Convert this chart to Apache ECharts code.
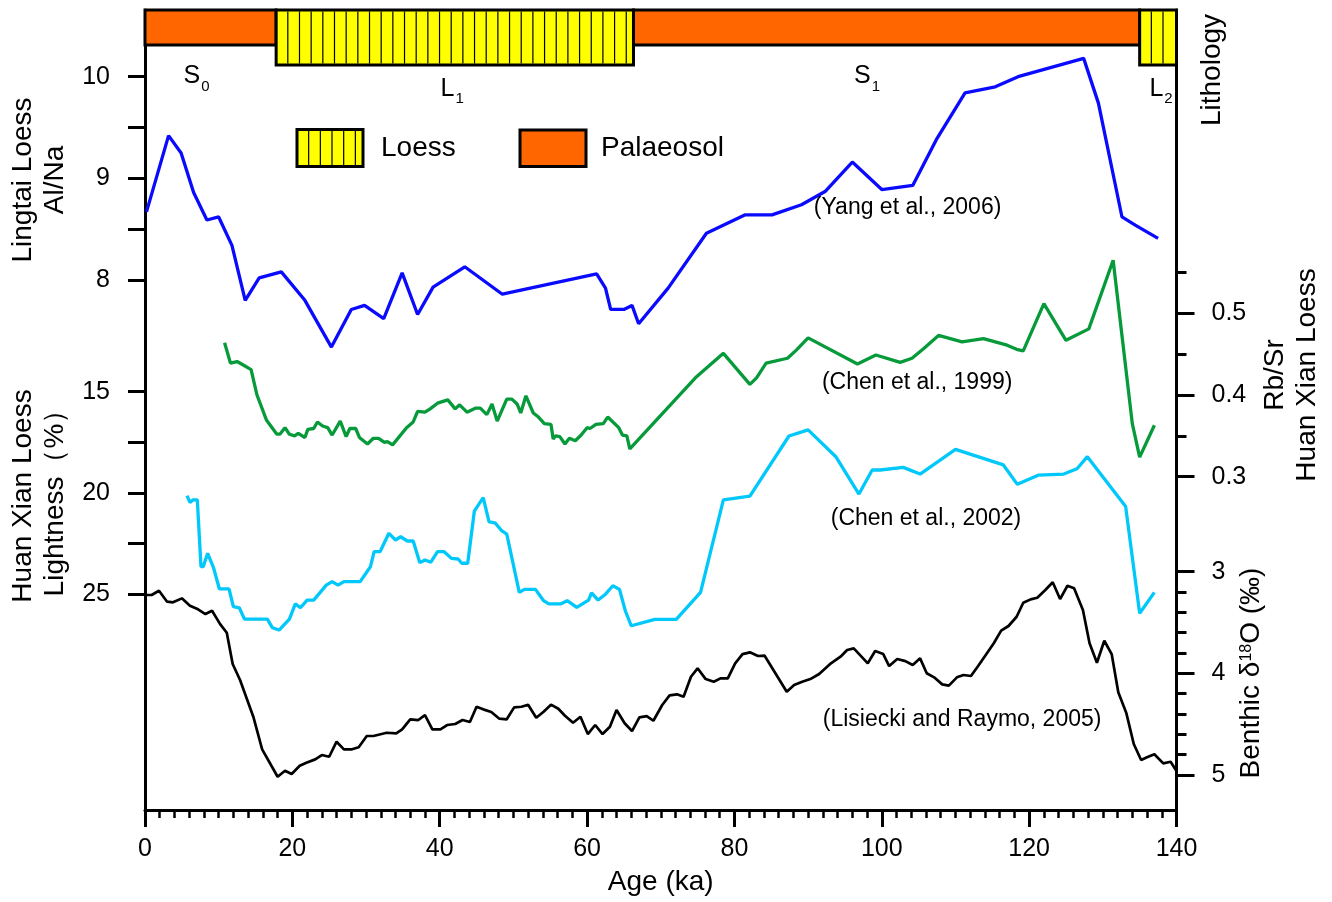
<!DOCTYPE html>
<html><head><meta charset="utf-8">
<script src="https://cdn.jsdelivr.net/npm/echarts@6/dist/echarts.min.js"></script>
<style>html,body{margin:0;padding:0;background:#fff}#c{width:1332px;height:902px}</style>
</head><body><div id="c"></div>
<script>
// ---------------- DATA ----------------
// Lingtai loess Al/Na (Yang et al., 2006): [age ka, Al/Na]
const alNaPoints = [[0.2,8.67],[3.2,9.42],[4.9,9.25],[6.6,8.86],[8.4,8.59],[10.0,8.62],[11.8,8.34],[13.6,7.80],[15.5,8.02],[18.5,8.08],[21.7,7.80],[25.3,7.34],[28.0,7.71],[29.8,7.75],[32.4,7.62],[34.9,8.07],[37.0,7.66],[39.1,7.93],[43.4,8.13],[48.5,7.86],[61.3,8.06],[62.5,7.92],[63.2,7.71],[65.0,7.71],[66.1,7.75],[67.0,7.57],[71.0,7.92],[76.2,8.46],[81.4,8.64],[85.1,8.64],[89.1,8.74],[92.3,8.87],[96.0,9.16],[100.0,8.89],[104.2,8.93],[107.4,9.38],[111.3,9.84],[115.4,9.90],[118.5,10.0],[127.4,10.18],[129.4,9.74],[132.6,8.62],[134.4,8.54],[137.5,8.41]];
// Huan Xian loess Rb/Sr (Chen et al., 1999): [age ka, Rb/Sr]
const rbSrPoints = [[10.8,0.464],[11.6,0.439],[12.5,0.441],[13.1,0.438],[14.4,0.431],[15.2,0.400],[16.5,0.369],[17.9,0.352],[18.3,0.352],[19.0,0.360],[19.6,0.352],[20.3,0.350],[20.8,0.353],[21.7,0.348],[22.1,0.358],[22.9,0.359],[23.4,0.367],[24.1,0.362],[24.8,0.360],[25.4,0.351],[26.5,0.368],[27.3,0.349],[27.8,0.359],[28.6,0.359],[29.1,0.348],[30.2,0.340],[31.0,0.347],[31.7,0.347],[32.5,0.342],[32.9,0.343],[33.6,0.339],[35.5,0.360],[36.4,0.367],[37.0,0.380],[38.0,0.379],[38.7,0.383],[39.7,0.390],[41.1,0.394],[42.1,0.383],[42.7,0.388],[43.7,0.379],[44.9,0.384],[45.5,0.384],[46.4,0.376],[47.1,0.389],[47.8,0.368],[49.1,0.395],[49.8,0.395],[50.5,0.389],[51.0,0.378],[51.7,0.399],[52.7,0.378],[53.4,0.373],[54.2,0.365],[55.1,0.364],[55.4,0.346],[55.7,0.350],[56.3,0.349],[57.0,0.340],[57.6,0.347],[58.4,0.344],[59.2,0.351],[60.0,0.360],[60.4,0.359],[61.2,0.364],[62.2,0.365],[62.8,0.373],[64.3,0.360],[64.8,0.351],[65.4,0.350],[65.8,0.334],[74.7,0.421],[78.5,0.451],[82.1,0.413],[83.0,0.421],[84.3,0.439],[87.2,0.445],[88.4,0.455],[90.0,0.470],[96.7,0.438],[99.2,0.449],[102.5,0.440],[104.1,0.445],[105.7,0.457],[107.7,0.473],[110.9,0.465],[113.8,0.469],[117.0,0.461],[118.3,0.456],[119.2,0.454],[122.0,0.512],[125.0,0.467],[128.1,0.481],[131.4,0.565],[134.0,0.365],[135.0,0.324],[137.0,0.363]];
// Huan Xian loess lightness (Chen et al., 2002): [age ka, %]
const lightnessPoints = [[5.7,20.14],[6.1,20.47],[6.5,20.35],[7.1,20.35],[7.6,23.65],[7.9,23.65],[8.5,22.99],[9.3,23.70],[10.1,24.75],[11.4,24.75],[12.0,25.63],[12.8,25.68],[13.5,26.24],[16.6,26.24],[17.3,26.67],[18.2,26.78],[19.6,26.24],[20.4,25.49],[21.1,25.68],[22.0,25.30],[22.9,25.30],[24.6,24.56],[25.4,24.39],[26.2,24.56],[27.0,24.39],[29.2,24.39],[30.6,23.65],[31.1,22.91],[31.9,22.91],[33.1,22.00],[34.0,22.33],[34.7,22.17],[35.6,22.38],[36.4,22.38],[37.3,23.45],[38.0,23.32],[38.8,23.43],[39.7,22.91],[40.6,22.91],[41.6,23.24],[42.5,23.27],[43.0,23.48],[43.8,23.48],[44.7,20.90],[45.9,20.24],[46.7,21.43],[47.5,21.48],[48.4,21.87],[49.1,22.04],[50.8,24.92],[51.5,24.77],[53.0,24.77],[54.1,25.33],[54.8,25.49],[56.4,25.49],[57.3,25.33],[58.6,25.66],[60.2,25.30],[60.6,24.94],[61.5,25.30],[62.5,25.01],[63.5,24.59],[64.4,24.77],[65.2,25.84],[66.0,26.57],[69.2,26.25],[72.1,26.25],[75.4,24.92],[78.5,20.35],[82.1,20.16],[87.4,17.19],[90.0,16.89],[93.8,18.23],[96.9,20.06],[98.7,18.87],[99.8,18.87],[102.9,18.74],[105.2,19.07],[110.0,17.85],[116.5,18.62],[118.4,19.58],[121.3,19.12],[124.7,19.07],[126.5,18.81],[127.9,18.21],[133.1,20.68],[135.0,25.95],[137.0,24.92]];
// Benthic d18O stack (Lisiecki and Raymo, 2005): [age ka, permil]
const d18OPoints = [[0,3.229],[0.9,3.229],[1.9,3.187],[3.0,3.295],[3.8,3.301],[5.0,3.262],[6.1,3.334],[7.2,3.370],[8.2,3.416],[9.1,3.384],[10.2,3.515],[11.1,3.600],[11.9,3.908],[12.9,4.065],[14.7,4.426],[15.9,4.747],[18.0,5.017],[19.0,4.958],[19.9,4.990],[21.0,4.909],[21.9,4.879],[23.1,4.846],[24.0,4.803],[25.0,4.820],[26.0,4.672],[27.0,4.747],[28.1,4.747],[29.0,4.727],[30.1,4.616],[31.0,4.616],[32.8,4.584],[34.1,4.590],[34.9,4.550],[36.0,4.452],[37.1,4.459],[38.0,4.410],[39.0,4.550],[40.1,4.550],[41.0,4.508],[42.1,4.498],[43.1,4.459],[44.1,4.478],[45.0,4.328],[45.9,4.354],[47.0,4.380],[48.1,4.446],[49.1,4.452],[50.1,4.334],[51.1,4.328],[52.0,4.308],[53.1,4.436],[54.1,4.377],[55.1,4.308],[56.1,4.348],[57.0,4.417],[58.1,4.486],[59.1,4.426],[60.1,4.597],[61.1,4.508],[62.1,4.597],[63.1,4.525],[64.0,4.361],[65.1,4.491],[66.1,4.567],[67.1,4.432],[68.1,4.420],[69.0,4.466],[70.2,4.311],[71.2,4.216],[72.2,4.206],[73.1,4.230],[74.1,4.033],[75.0,3.950],[76.1,4.056],[77.2,4.082],[78.1,4.049],[79.1,4.049],[80.1,3.901],[81.1,3.810],[82.1,3.793],[83.2,3.829],[84.1,3.826],[87.1,4.181],[88.1,4.115],[89.2,4.082],[90.3,4.056],[91.5,4.006],[93.1,3.901],[94.4,3.836],[95.3,3.770],[96.2,3.754],[98.1,3.901],[99.1,3.780],[100.2,3.810],[101.0,3.928],[102.1,3.859],[103.2,3.879],[104.2,3.918],[105.2,3.852],[106.1,3.999],[107.1,4.039],[108.2,4.108],[109.1,4.121],[110.2,4.039],[111.1,4.016],[112.1,4.026],[113.1,3.925],[114.2,3.810],[115.2,3.704],[116.2,3.580],[117.2,3.534],[118.3,3.443],[119.2,3.305],[120.2,3.272],[121.1,3.256],[122.2,3.180],[123.2,3.104],[124.2,3.269],[125.2,3.138],[126.1,3.163],[127.3,3.377],[128.2,3.704],[129.2,3.895],[130.2,3.679],[131.2,3.810],[132.1,4.186],[133.2,4.393],[134.2,4.695],[135.2,4.852],[136.0,4.826],[137.0,4.796],[138.2,4.885],[139.2,4.869],[140.0,4.960]];
// Lithology units
const unitStart = [0, 17.8, 66.3, 135];
const unitEnd   = [17.8, 66.3, 135, 140];
const unitType  = ['Palaeosol', 'Loess', 'Palaeosol', 'Loess'];
const unitName  = ['S0', 'L1', 'S1', 'L2'];
const unitLabelAge = [7.0, 41.7, 98.0, 137.9];
// Axis tick values
const alNaTicks = [8, 8.5, 9, 9.5, 10], alNaLabels = [8, 9, 10];
const lightTicks = [15, 17.5, 20, 22.5, 25], lightLabels = [15, 20, 25];
const rbSrMajor = [0.3, 0.4, 0.5], rbSrMinor = [0.35, 0.45, 0.55];
const d18OMajor = [3, 4, 5], d18OMinor = [3.2, 3.4, 3.6, 3.8, 4.2, 4.4, 4.6, 4.8];
// Citations: text, anchor age, anchor value
const citationText = ['(Yang et al., 2006)', '(Chen et al., 1999)', '(Chen et al., 2002)', '(Lisiecki and Raymo, 2005)'];
const citationAge = [103.5, 104.8, 106.0, 110.9];
const citationValue = [8.708, 0.4147, 21.29, 4.459];

// ---------------- CHART ----------------
const FF = 'Arial, "Liberation Sans", sans-serif';
const chart = echarts.init(document.getElementById('c'), null, {renderer: 'canvas'});
const LOESS = '#FFFF00', SOIL = '#FF6600';

function yAx(o) {
  return Object.assign({
    type: 'value', splitLine: {show: false}, scale: false,
    axisLine: {show: false, lineStyle: {color: '#000', width: 3}},
    axisTick: {show: false},
    axisLabel: {show: false},
  }, o);
}
const tickStyle = {color: '#000', width: 3};
const labelStyle = {color: '#000', fontSize: 25, fontFamily: FF};

function citation(i) {
  return {
    symbol: 'circle', symbolSize: 1, silent: true, animation: false,
    itemStyle: {color: 'rgba(0,0,0,0)'},
    label: {show: true, position: 'inside', color: '#000', fontSize: 23, fontFamily: FF, formatter: citationText[i]},
    data: [{coord: [citationAge[i], citationValue[i]]}]
  };
}

function hatch(x0, x1, y0, y1, children) {
  for (let x = x0 + 11.67; x < x1 - 3; x += 11.67) {
    children.push({type: 'line', shape: {x1: x, y1: y0 + 1.5, x2: x, y2: y1 - 1.5}, style: {stroke: '#000', lineWidth: 1.2}});
  }
}

// legend graphics
const legendChildren = [];
legendChildren.push({type: 'rect', shape: {x: 297, y: 129.5, width: 66, height: 37}, style: {fill: LOESS, stroke: '#000', lineWidth: 3}});
hatch(297, 363, 129.5, 166.5, legendChildren);
legendChildren.push({type: 'text', x: 381, y: 148, style: {text: 'Loess', fontSize: 28, fontFamily: FF, fill: '#000', align: 'left', verticalAlign: 'middle'}});
legendChildren.push({type: 'rect', shape: {x: 520, y: 130, width: 66, height: 36.5}, style: {fill: SOIL, stroke: '#000', lineWidth: 3}});
legendChildren.push({type: 'text', x: 601, y: 148, style: {text: 'Palaeosol', fontSize: 28, fontFamily: FF, fill: '#000', align: 'left', verticalAlign: 'middle'}});

function vtitle(x, y, text, rich) {
  return {type: 'text', x: x, y: y, rotation: Math.PI / 2, silent: true,
    style: Object.assign({text: text, fontSize: 28, fontFamily: FF, fill: '#000', align: 'center', verticalAlign: 'middle', lineHeight: 32}, rich ? {rich: rich} : {})};
}

const option = {
  animation: false,
  backgroundColor: '#fff',
  grid: {left: 145, right: 155.5, top: 10, bottom: 92, containLabel: false, outerBoundsMode: 'none'},
  xAxis: {
    type: 'value', min: 0, max: 140, interval: 20,
    axisLine: {show: true, onZero: false, lineStyle: {color: '#000', width: 3}},
    axisTick: {show: true, length: 17, lineStyle: tickStyle},
    minorTick: {show: true, splitNumber: 10, length: 8, lineStyle: {color: '#000', width: 2.5}},
    axisLabel: Object.assign({margin: 27}, labelStyle),
    splitLine: {show: false}, minorSplitLine: {show: false},
    name: 'Age (ka)', nameLocation: 'middle', nameGap: 58,
    nameTextStyle: {fontSize: 28, color: '#000', fontFamily: FF}
  },
  yAxis: [
    // 0 Al/Na (left)
    yAx({position: 'left', min: 2.786, max: 10.656,
      axisLine: {show: true, onZero: false, lineStyle: {color: '#000', width: 3}},
      axisTick: {show: true, length: 17, lineStyle: tickStyle, customValues: alNaTicks},
      axisLabel: Object.assign({show: true, margin: 35, customValues: alNaLabels}, labelStyle)}),
    // 1 Lightness (left, inverted)
    yAx({position: 'left', inverse: true, min: -3.868, max: 35.677,
      axisTick: {show: true, length: 17, lineStyle: tickStyle, customValues: lightTicks},
      axisLabel: Object.assign({show: true, margin: 35, customValues: lightLabels}, labelStyle)}),
    // 2 Rb/Sr major (right)
    yAx({position: 'right', min: -0.1081, max: 0.8714,
      axisLine: {show: true, onZero: false, lineStyle: {color: '#000', width: 3}},
      axisTick: {show: true, length: 18, lineStyle: tickStyle, customValues: rbSrMajor},
      axisLabel: Object.assign({show: true, margin: 35, customValues: rbSrMajor, formatter: v => (+v).toFixed(1)}, labelStyle)}),
    // 3 Rb/Sr minor
    yAx({position: 'right', min: -0.1081, max: 0.8714,
      axisTick: {show: true, length: 10, lineStyle: tickStyle, customValues: rbSrMinor}}),
    // 4 d18O major (right, inverted)
    yAx({position: 'right', inverse: true, min: -2.526, max: 5.344,
      axisTick: {show: true, length: 18, lineStyle: tickStyle, customValues: d18OMajor},
      axisLabel: Object.assign({show: true, margin: 35, customValues: d18OMajor}, labelStyle)}),
    // 5 d18O minor
    yAx({position: 'right', inverse: true, min: -2.526, max: 5.344,
      axisTick: {show: true, length: 10, lineStyle: tickStyle, customValues: d18OMinor}}),
    // 6 lithology (hidden)
    yAx({show: false, min: 0, max: 1})
  ],
  series: [
    {type: 'line', name: 'Al/Na', yAxisIndex: 0, data: alNaPoints, showSymbol: false, symbol: 'none',
      lineStyle: {color: '#0a0aff', width: 3.3}, itemStyle: {color: '#0a0aff'}, z: 3, markPoint: citation(0)},
    {type: 'line', name: 'Rb/Sr', yAxisIndex: 2, data: rbSrPoints, showSymbol: false, symbol: 'none',
      lineStyle: {color: '#079a3a', width: 3.3}, itemStyle: {color: '#079a3a'}, z: 3, markPoint: citation(1)},
    {type: 'line', name: 'Lightness', yAxisIndex: 1, data: lightnessPoints, showSymbol: false, symbol: 'none',
      lineStyle: {color: '#00c8fa', width: 3.3}, itemStyle: {color: '#00c8fa'}, z: 3, markPoint: citation(2)},
    {type: 'line', name: 'd18O', yAxisIndex: 4, data: d18OPoints, showSymbol: false, symbol: 'none',
      lineStyle: {color: '#000', width: 2.7}, itemStyle: {color: '#000'}, z: 3, markPoint: citation(3)},
    {type: 'custom', name: 'Lithology', yAxisIndex: 6, clip: false, z: 6,
      data: unitStart.map((s, i) => [s, unitEnd[i], i]),
      encode: {x: [0, 1]},
      renderItem: function (params, api) {
        const i = api.value(2);
        const x0 = api.coord([api.value(0), 0])[0];
        const x1 = api.coord([api.value(1), 0])[0];
        const top = params.coordSys.y;
        const isLoess = unitType[i] === 'Loess';
        const h = isLoess ? 55 : 35;
        const ch = [{type: 'rect', shape: {x: x0, y: top, width: x1 - x0, height: h},
          style: {fill: isLoess ? LOESS : SOIL, stroke: '#000', lineWidth: 3}}];
        if (isLoess) hatch(x0, x1, top, top + h, ch);
        const lx = api.coord([unitLabelAge[i], 0])[0];
        ch.push({type: 'text', x: lx, y: top + h + (isLoess ? 11.5 : 19),
          style: {text: '{m|' + unitName[i][0] + '}{s|' + unitName[i].slice(1) + '}',
            align: 'center', verticalAlign: 'top',
            rich: {
              m: {fontSize: 25, fontFamily: FF, fill: '#000', lineHeight: 25, verticalAlign: 'top'},
              s: {fontSize: 15, fontFamily: FF, fill: '#000', lineHeight: 15, verticalAlign: 'top', padding: [15, 0, 0, 1]}
            }}});
        return {type: 'group', children: ch};
      }
    }
  ],
  graphic: [
    {type: 'group', silent: true, children: legendChildren},
    vtitle(39, 180, 'Lingtai Loess\nAl/Na'),
    vtitle(39, 496, 'Huan Xian Loess\nLightness（%）'),
    vtitle(1212, 70, 'Lithology'),
    vtitle(1291, 375, 'Rb/Sr\nHuan Xian Loess'),
    vtitle(1251, 673, '{a|Benthic δ}{b|18}{a|O (‰)}', {
      a: {fontSize: 28, fontFamily: FF, fill: '#000'},
      b: {fontSize: 16, fontFamily: FF, fill: '#000', padding: [0, 0, 8, 0]}
    })
  ]
};
chart.setOption(option);
</script>
</body></html>
